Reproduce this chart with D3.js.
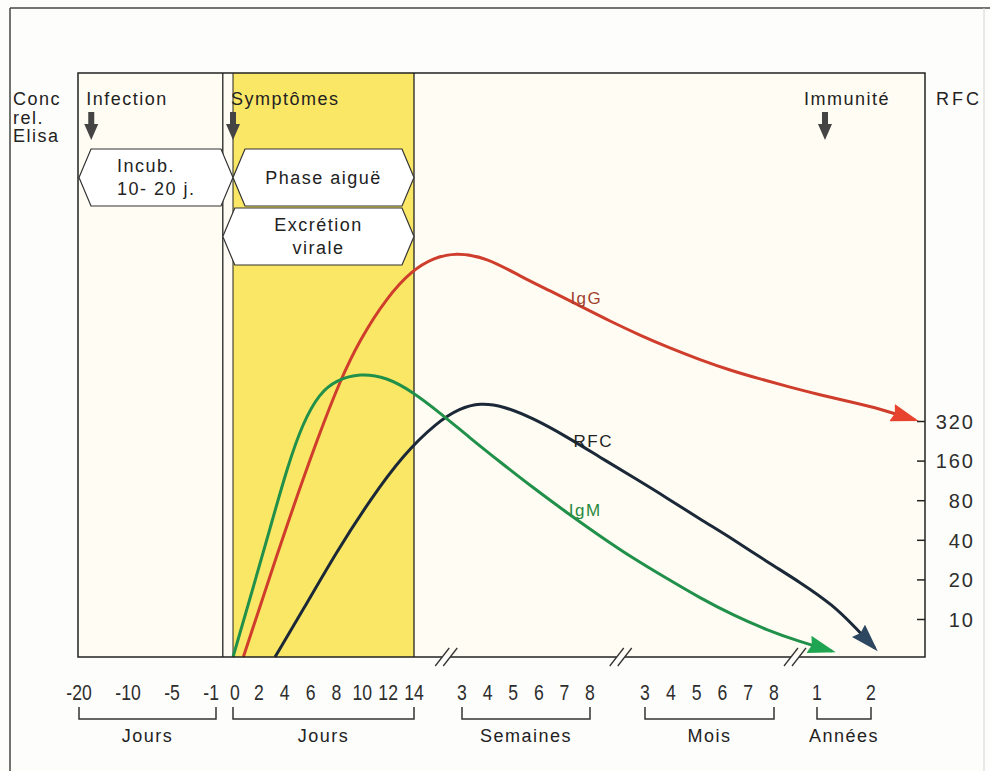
<!DOCTYPE html>
<html>
<head>
<meta charset="utf-8">
<script src="https://cdn.jsdelivr.net/npm/d3@7"></script>
<style>
  body { margin: 0; background: #fdfdfb; }
  text { font-family: "Liberation Sans", Arial, sans-serif; fill: #222; }
  .num { font-size: 22px; fill: #2e2e2e; }
  .lbl { font-size: 18px; letter-spacing: 1.5px; }
</style>
</head>
<body>
<div id="chart"></div>
<script>
/* DATA */
// tick labels of the time axis, each group in its own unit
const ticksBefore = [-20, -10, -5, -1];         // jours
const ticksDays = [0, 2, 4, 6, 8, 10, 12, 14];  // jours
const ticksWeeks = [3, 4, 5, 6, 7, 8];          // semaines
const ticksMonths = [3, 4, 5, 6, 7, 8];         // mois
const ticksYears = [1, 2];                      // années
const rfcTicks = [10, 20, 40, 80, 160, 320];

// [jour depuis les symptômes, concentration relative 0-100]
const igG = [[0.8, 0], [4.2, 22.9], [6.7, 38.4], [8.3, 47.4], [9.8, 54.3], [11.9, 61.6], [13.9, 66.3],
  [16.8, 68.3], [20, 69.3], [27.8, 68.4], [36.9, 65.2], [45.1, 62.7], [53.3, 60.1], [68.4, 57.5],
  [86.9, 55.1], [119, 52.9], [154, 50.9], [189, 49.1], [224, 47.6], [287, 46.2], [385, 44.9],
  [588, 43.7], [791, 42.5], [1027, 40.6]];
const igM = [[0, 0], [1.55, 11.8], [2.9, 22.3], [4.2, 32.5], [5.4, 40.1], [6.7, 45.2], [8, 47.4],
  [9.8, 48.6], [11.9, 47.9], [13.9, 45.4], [17.8, 41.8], [23.2, 37.5], [31.4, 33.4], [40.4, 29],
  [49.7, 24.7], [62.2, 20.7], [82.6, 16.9], [116, 13.4], [154, 10.1], [192, 7.2], [232, 4.6],
  [316, 2.6], [466, 1]];
const rfc = [[3.25, 0], [5.4, 8], [8, 18], [10.6, 26.9], [13.15, 34.6], [17.35, 40.2], [20.7, 42.6],
  [25.9, 43.5], [32.2, 43], [40.4, 40.9], [49.7, 37.7], [62.2, 34.2], [82.6, 30.8], [116, 27.2],
  [154, 23.6], [192, 20.2], [232, 16.3], [316, 12.8], [473, 8.9], [622, 5.1], [757, 1.5]];

const phases = [
  { label: ["Incub.", "10- 20 j."], start: -20, end: 0, row: 0, align: "start" },
  { label: ["Phase aiguë"], start: 0, end: 14, row: 0, align: "middle" },
  { label: ["Excrétion", "virale"], start: -0.6, end: 14, row: 1, align: "middle" }
];
const events = [
  { label: "Infection", day: -17.5, shift: -5 },
  { label: "Symptômes", day: 0, shift: -2 },
  { label: "Immunité", day: 419, shift: -21 }
];
const breaks = [18.7, 75, 301];

/* CONSTANTS */
const width = 990, height = 771;
const box = { left: 78, right: 925, top: 73, bottom: 657 };

const groups = [
  { label: "Jours", ticks: ticksBefore, unit: 1 },
  { label: "Jours", ticks: ticksDays, unit: 1 },
  { label: "Semaines", ticks: ticksWeeks, unit: 7 },
  { label: "Mois", ticks: ticksMonths, unit: 30 },
  { label: "Années", ticks: ticksYears, unit: 365 }
];

const series = [
  { name: "IgG", values: igG, color: "#cf3d2c", head: "#e8432f", labelColor: "#a0402f", labelAt: [55, 61.6] },
  { name: "RFC", values: rfc, color: "#1b2838", head: "#2d4761", labelColor: "#222", labelAt: [58, 37.2] },
  { name: "IgM", values: igM, color: "#21904a", head: "#1fa451", labelColor: "#2a8a40", labelAt: [54.7, 25.3] }
];

/* SCALES */
// piecewise time scale (days) with the broken segments of the axis
const xScale = d3.scaleLinear()
  .domain([-20, -10, -5, -1, 0, 14, 21, 56, 90, 240, 365, 730])
  .range([79, 128, 172, 216, 233, 414, 462, 590, 645, 774, 817, 871]);

const yScale = d3.scaleLinear()
  .domain([0, 100])
  .range([box.bottom, box.top]);

const rfcScale = d3.scaleLog().base(2)
  .domain([10, 320])
  .range([619, 421]);

/* SVG */
const svg = d3.select("#chart").append("svg")
  .attr("width", width)
  .attr("height", height);

// outer frame
svg.append("line").attr("x1", 10).attr("x2", 10).attr("y1", 8).attr("y2", height)
  .attr("stroke", "#444").attr("stroke-width", 1.5);
svg.append("line").attr("x1", 10).attr("x2", width).attr("y1", 8).attr("y2", 8)
  .attr("stroke", "#444").attr("stroke-width", 1.5);
svg.append("line").attr("x1", 984).attr("x2", 984).attr("y1", 8).attr("y2", height)
  .attr("stroke", "#d4d4d4").attr("stroke-width", 1);

// plot background
svg.append("rect")
  .attr("x", box.left).attr("y", box.top)
  .attr("width", box.right - box.left).attr("height", box.bottom - box.top)
  .attr("fill", "#fffdf3");

// acute phase (yellow)
svg.append("rect")
  .attr("x", xScale(0)).attr("y", box.top)
  .attr("width", xScale(14) - xScale(0)).attr("height", box.bottom - box.top)
  .attr("fill", "#fbe766");

// section lines
svg.selectAll("line.section")
  .data([-0.6, 0, 14])
  .join("line")
  .attr("class", "section")
  .attr("x1", d => xScale(d)).attr("x2", d => xScale(d))
  .attr("y1", box.top).attr("y2", box.bottom)
  .attr("stroke", "#222").attr("stroke-width", d => d === 0 ? 1 : 1.3);

// phase hexagons
const rowTop = r => 149 + r * 59, rowH = 57, inset = 12;
const hex = svg.selectAll("g.phase")
  .data(phases)
  .join("g")
  .attr("class", "phase");

hex.append("path")
  .attr("d", d => {
    const x0 = xScale(d.start), x1 = xScale(d.end);
    const t = rowTop(d.row), b = t + rowH, m = t + rowH / 2;
    return `M${x0},${m}L${x0 + inset},${t}L${x1 - inset},${t}L${x1},${m}L${x1 - inset},${b}L${x0 + inset},${b}Z`;
  })
  .attr("fill", "#fff")
  .attr("stroke", "#333")
  .attr("stroke-width", 1.2);

hex.each(function(d) {
  const g = d3.select(this);
  const cx = d.align === "start" ? xScale(d.start) + 38 : (xScale(d.start) + xScale(d.end)) / 2;
  const cy = rowTop(d.row) + rowH / 2 + 6;
  const offs = d.label.length === 1 ? [0] : [-11.5, 11.5];
  g.selectAll("text")
    .data(d.label)
    .join("text")
    .attr("class", "lbl")
    .attr("x", cx)
    .attr("y", (t, i) => cy + offs[i])
    .attr("text-anchor", d.align)
    .text(t => t);
});

// curves
const defs = svg.append("defs");
series.forEach(s => {
  defs.append("marker")
    .attr("id", "arrow-" + s.name)
    .attr("viewBox", "0 0 28 18")
    .attr("markerUnits", "userSpaceOnUse")
    .attr("markerWidth", 28).attr("markerHeight", 18)
    .attr("refX", 24).attr("refY", 9)
    .attr("orient", "auto")
    .append("path")
    .attr("d", "M0,0L28,9L0,18L3,9Z")
    .attr("fill", s.head);
});

const line = d3.line()
  .x(d => xScale(d[0]))
  .y(d => yScale(d[1]))
  .curve(d3.curveBasis);

svg.selectAll("path.curve")
  .data(series)
  .join("path")
  .attr("class", "curve")
  .attr("d", d => line(d.values))
  .attr("fill", "none")
  .attr("stroke", d => d.color)
  .attr("stroke-width", 3)
  .attr("marker-end", d => `url(#arrow-${d.name})`);

svg.selectAll("text.curve-label")
  .data(series)
  .join("text")
  .attr("class", "lbl curve-label")
  .attr("x", d => xScale(d.labelAt[0]))
  .attr("y", d => yScale(d.labelAt[1]) + 7)
  .attr("text-anchor", "middle")
  .style("font-size", "17px")
  .style("fill", d => d.labelColor)
  .text(d => d.name);

// plot frame
svg.append("rect")
  .attr("x", box.left).attr("y", box.top)
  .attr("width", box.right - box.left).attr("height", box.bottom - box.top)
  .attr("fill", "none")
  .attr("stroke", "#222").attr("stroke-width", 1.5);

// axis breaks
const brk = svg.selectAll("g.break")
  .data(breaks)
  .join("g")
  .attr("class", "break")
  .attr("transform", d => `translate(${xScale(d)},${box.bottom})`);
brk.append("rect").attr("x", -4).attr("y", -2).attr("width", 8).attr("height", 4).attr("fill", "#fdfdfb");
brk.selectAll("line")
  .data([-4, 4])
  .join("line")
  .attr("x1", o => o - 7).attr("y1", 9)
  .attr("x2", o => o + 7).attr("y2", -9)
  .attr("stroke", "#333").attr("stroke-width", 1.3);

// right axis (RFC titers)
const rfcAxis = svg.append("g")
  .attr("transform", `translate(${box.right},0)`)
  .call(d3.axisRight(rfcScale).tickValues(rfcTicks).tickSize(-8).tickFormat(d3.format("d")));
rfcAxis.select(".domain").remove();
rfcAxis.selectAll(".tick line").attr("stroke", "#222").attr("stroke-width", 1.5);
rfcAxis.selectAll(".tick text")
  .attr("class", "num")
  .attr("x", 50)
  .attr("dy", "0.36em")
  .attr("text-anchor", "end")
  .style("font-size", "20px")
  .style("letter-spacing", "2px");

// bottom time axis: tick labels, brackets, unit names
const grp = svg.selectAll("g.group")
  .data(groups)
  .join("g")
  .attr("class", "group");

grp.selectAll("text.num")
  .data((g, gi) => g.ticks.map((t, i) => ({
    v: t,
    day: t * g.unit,
    // the two labels around day 0 are pushed apart
    anchor: gi === 0 && i === g.ticks.length - 1 ? "end" : gi === 1 && i === 0 ? "start" : "middle",
    dx: gi === 0 && i === g.ticks.length - 1 ? 3 : gi === 1 && i === 0 ? -3 : 0
  })))
  .join("text")
  .attr("class", "num")
  .attr("transform", d => `translate(${xScale(d.day) + d.dx},700) scale(0.8,1)`)
  .attr("text-anchor", d => d.anchor)
  .text(d => d.v);

grp.append("path")
  .attr("d", g => {
    const a = xScale(g.ticks[0] * g.unit), b = xScale(g.ticks[g.ticks.length - 1] * g.unit);
    return `M${a},707V719H${b}V707`;
  })
  .attr("fill", "none")
  .attr("stroke", "#333")
  .attr("stroke-width", 1.5);

grp.append("text")
  .attr("class", "lbl")
  .attr("x", g => (xScale(g.ticks[0] * g.unit) + xScale(g.ticks[g.ticks.length - 1] * g.unit)) / 2)
  .attr("y", 742)
  .attr("text-anchor", "middle")
  .text(g => g.label);

// events with arrows
const ev = svg.selectAll("g.event")
  .data(events)
  .join("g")
  .attr("class", "event")
  .attr("transform", d => `translate(${xScale(d.day)},0)`);

ev.append("text")
  .attr("class", "lbl")
  .attr("x", d => d.shift)
  .attr("y", 105)
  .text(d => d.label);

ev.append("path")
  .attr("d", "M-3,112H3V124H7L0,140L-7,124H-3Z")
  .attr("fill", "#444");

// axis titles
svg.append("text")
  .attr("class", "lbl")
  .attr("x", 13)
  .attr("y", 105)
  .selectAll("tspan")
  .data(["Conc", "rel.", "Elisa"])
  .join("tspan")
  .attr("x", 13)
  .attr("dy", (d, i) => i === 0 ? 0 : 18.5)
  .text(d => d);

svg.append("text")
  .attr("class", "lbl")
  .attr("x", 936)
  .attr("y", 105)
  .style("letter-spacing", "3px")
  .text("RFC");
</script>
</body>
</html>
